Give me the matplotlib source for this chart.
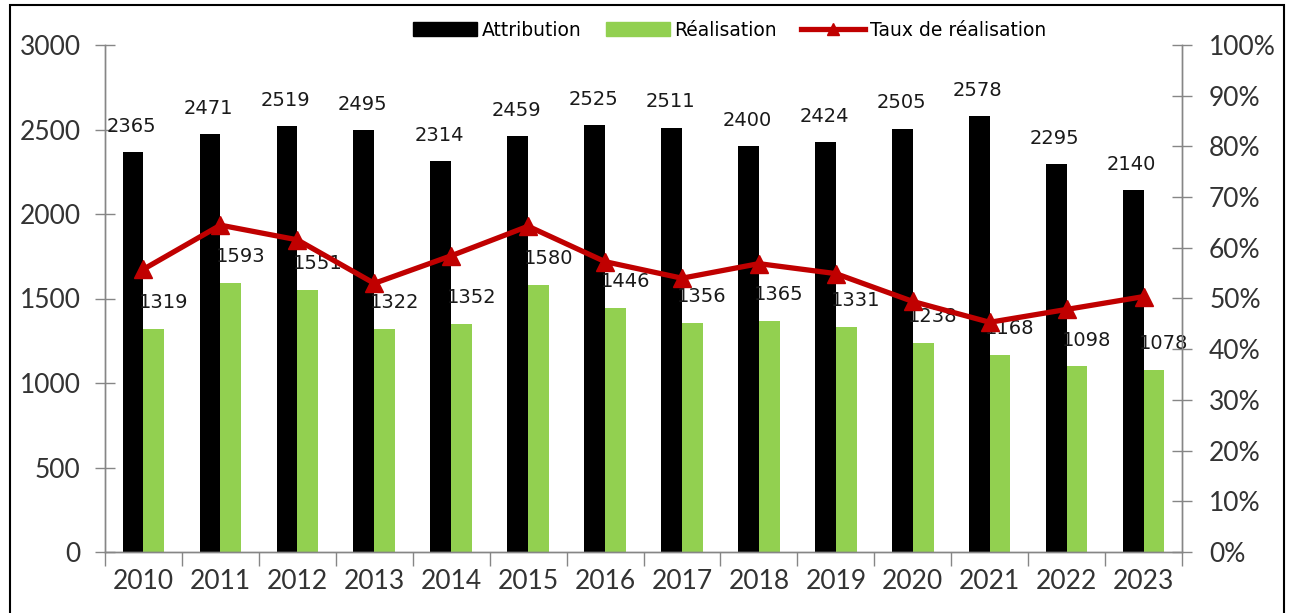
import matplotlib
matplotlib.use("Agg")
import matplotlib.pyplot as plt
import numpy as np
from matplotlib.patches import Rectangle
from matplotlib.lines import Line2D
from matplotlib.patches import Patch

years = ["2010", "2011", "2012", "2013", "2014", "2015", "2016",
         "2017", "2018", "2019", "2020", "2021", "2022", "2023"]
attribution = [2365, 2471, 2519, 2495, 2314, 2459, 2525,
               2511, 2400, 2424, 2505, 2578, 2295, 2140]
realisation = [1319, 1593, 1551, 1322, 1352, 1580, 1446,
               1356, 1365, 1331, 1238, 1168, 1098, 1078]
left_ticks = [0, 500, 1000, 1500, 2000, 2500, 3000]
right_ticks = [0, 0.1, 0.2, 0.3, 0.4, 0.5, 0.6, 0.7, 0.8, 0.9, 1.0]

attr = np.array(attribution, dtype=float)
real = np.array(realisation, dtype=float)
taux = real / attr

BLACK = "#000000"
GREEN = "#92D050"
RED = "#C00000"
AXIS_GREY = "#868686"
TICK_FONT = "Lato"
LABEL_FONT = "DejaVu Sans"

W, H = 1289, 613
fig = plt.figure(figsize=(W / 100, H / 100), dpi=100)
fig.patch.set_facecolor("white")

ax = fig.add_axes([105 / W, 1 - 552 / H, (1182 - 105) / W, (552 - 45) / H])
ax2 = ax.twinx()

x = np.arange(len(years))
bw = 0.27
off = 0.135

ax.bar(x - off, attr, width=bw, color=BLACK, zorder=2)
ax.bar(x + off, real, width=bw, color=GREEN, zorder=2)

ax.set_xlim(-0.5, len(years) - 0.5)
ax.set_ylim(0, 3000)
ax2.set_ylim(0, 1.0)

# data labels above each bar
for xi, v in zip(x, attr):
    ax.annotate(f"{int(v)}", (xi - off, v), xytext=(-1, 18.5),
                textcoords="offset points", ha="center", va="center",
                fontsize=14, family=LABEL_FONT, color="#1a1a1a", zorder=5)
for xi, v in zip(x, real):
    ax.annotate(f"{int(v)}", (xi + off, v), xytext=(7, 19),
                textcoords="offset points", ha="center", va="center",
                fontsize=14, family=LABEL_FONT, color="#1a1a1a", zorder=5)

ax2.plot(x, taux, color=RED, lw=3.8, marker="^", markersize=13,
         markeredgecolor=RED, markerfacecolor=RED, zorder=4)
ax2.set_zorder(ax.get_zorder() + 1)
ax2.patch.set_visible(False)

# axes styling
for a in (ax, ax2):
    a.spines["top"].set_visible(False)
    for s in ("left", "right", "bottom"):
        a.spines[s].set_color(AXIS_GREY)
        a.spines[s].set_linewidth(1.0)

ax.set_yticks(left_ticks)
ax.set_yticklabels([str(t) for t in left_ticks], fontsize=19,
                   family=TICK_FONT, color="#333333")
ax.tick_params(axis="y", direction="inout", length=15, width=1.0,
               color=AXIS_GREY, pad=10)

ax2.set_yticks(right_ticks)
ax2.set_yticklabels([f"{int(round(t * 100))}%" for t in right_ticks],
                    fontsize=19, family=TICK_FONT, color="#333333")
ax2.tick_params(axis="y", direction="inout", length=15, width=1.0,
                color=AXIS_GREY, pad=12)

ax.set_xticks(x)
ax.set_xticklabels(years, fontsize=19, family=TICK_FONT, color="#333333")
ax.tick_params(axis="x", length=0, pad=12)
ax.set_xticks(np.arange(-0.5, len(years), 1.0), minor=True)
ax.tick_params(axis="x", which="minor", direction="out", length=10,
               width=1.0, color=AXIS_GREY)
ax2.tick_params(axis="x", length=0)

# legend at the top
handles = [
    Patch(facecolor=BLACK, edgecolor=BLACK, label="Attribution"),
    Patch(facecolor=GREEN, edgecolor=GREEN, label="Réalisation"),
    Line2D([0], [0], color=RED, lw=3.8, marker="^", markersize=9,
           label="Taux de réalisation"),
]
fig.legend(handles=handles, loc="center", bbox_to_anchor=(0.566, 1 - 30 / H),
           ncol=3, frameon=False,
           prop={"family": LABEL_FONT, "size": 13.5},
           handlelength=3.4, handleheight=0.7, handletextpad=0.25,
           columnspacing=1.3)

# chart border
fig.add_artist(Rectangle((9.5 / W, -0.05), (1284 - 9.5) / W, 1 - 5 / H + 0.05,
                         transform=fig.transFigure, fill=False,
                         edgecolor="black", lw=1.5, clip_on=False))

fig.savefig("out.png", dpi=100, facecolor="white")
